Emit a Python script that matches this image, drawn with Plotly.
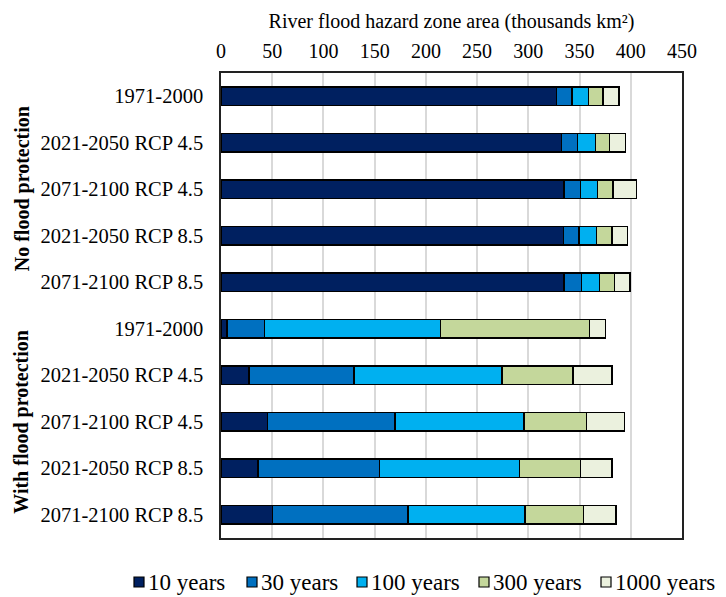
import plotly.graph_objects as go

categories = ["1971-2000", "2021-2050 RCP 4.5", "2071-2100 RCP 4.5", "2021-2050 RCP 8.5", "2071-2100 RCP 8.5",
              "1971-2000", "2021-2050 RCP 4.5", "2071-2100 RCP 4.5", "2021-2050 RCP 8.5", "2071-2100 RCP 8.5"]
groups = ["No flood protection", "With flood protection"]

series_names = ["10 years", "30 years", "100 years", "300 years", "1000 years"]
y10 = [327.3, 332.5, 334.7, 334.1, 334.7, 5.9, 27.4, 45.3, 36.1, 50.1]
y30 = [15.3, 15.6, 16.0, 15.3, 17.3, 36.8, 102.6, 124.4, 118.5, 132.2]
y100 = [15.9, 17.3, 16.9, 16.9, 17.3, 171.6, 144.3, 126.3, 136.8, 114.3]
y300 = [14.3, 14.0, 15.0, 15.3, 15.0, 145.5, 69.4, 60.9, 59.6, 57.3]
y1000 = [15.7, 15.6, 22.8, 15.3, 15.0, 15.3, 38.1, 37.1, 30.6, 31.6]
colors = ["#002060", "#0070C0", "#00B0F0", "#C4D79B", "#EBF1DE"]

x_ticks = [0, 50, 100, 150, 200, 250, 300, 350, 400, 450]

FONT = "Liberation Serif, Times New Roman, serif"
FS = 20.5
W, H = 726, 597
ML, MR, MT, MB = 221, 44, 73, 59
PW, PH = W - ML - MR, H - MT - MB
pos = list(range(len(categories)))


def px_x(px):
    return (px - ML) / PW


def px_y(py):
    return (H - MB - py) / PH


fig = go.Figure()
for name, vals, col in zip(series_names, [y10, y30, y100, y300, y1000], colors):
    fig.add_trace(go.Bar(
        x=vals, y=pos, orientation="h", name=name, showlegend=False,
        marker=dict(color=col, line=dict(color="#000000", width=1.5)),
    ))

fig.update_layout(
    barmode="stack",
    bargap=0.6,
    width=W, height=H,
    margin=dict(l=ML, r=MR, t=MT, b=MB, autoexpand=False),
    paper_bgcolor="white", plot_bgcolor="white",
    font=dict(family=FONT, size=FS, color="#000000"),
    showlegend=False,
    xaxis=dict(side="top", range=[0, 450], tickvals=x_ticks, showgrid=True,
               gridcolor="#D9D9D9", gridwidth=1.5, zeroline=False, automargin=False,
               showline=True, mirror=True, linecolor="#222222", linewidth=1.5,
               ticks="", ticklabelstandoff=5, tickfont=dict(family=FONT, size=20),
               title=dict(text="River flood hazard zone area (thousands km²)",
                          font=dict(family=FONT, size=20), standoff=6)),
    yaxis=dict(tickvals=pos, ticktext=categories, autorange=False, automargin=False,
               range=[len(categories) - 0.5, -0.5],
               showgrid=False, zeroline=False,
               showline=True, mirror=True, linecolor="#222222", linewidth=1.5,
               ticks="", ticklabelstandoff=12, tickfont=dict(family=FONT, size=FS)),
)

fig.add_annotation(text="<b>" + groups[0] + "</b>", textangle=-90, xref="paper", yref="y",
                   x=px_x(22), xanchor="center", y=2, showarrow=False, font=dict(family=FONT, size=20))
fig.add_annotation(text="<b>" + groups[1] + "</b>", textangle=-90, xref="paper", yref="y",
                   x=px_x(22), xanchor="center", y=7, showarrow=False, font=dict(family=FONT, size=20))

# Manual legend (Excel style: small bordered squares, tight text)
legend_left_px = [134, 247, 357, 479, 601]
legend_y_px = 582
sq = 10
for name, col, lx in zip(series_names, colors, legend_left_px):
    fig.add_shape(type="rect", xref="paper", yref="paper",
                  x0=px_x(lx), x1=px_x(lx + sq),
                  y0=px_y(legend_y_px + sq / 2), y1=px_y(legend_y_px - sq / 2),
                  fillcolor=col, line=dict(color="#000000", width=1.2))
    fig.add_annotation(text=name, xref="paper", yref="paper",
                       x=px_x(lx + sq + 3), y=px_y(legend_y_px), xanchor="left", yanchor="middle",
                       showarrow=False, font=dict(family=FONT, size=23), borderpad=0)

fig.write_html("out.html", config={"displayModeBar": False},
               post_script="document.body.style.margin='0';")
